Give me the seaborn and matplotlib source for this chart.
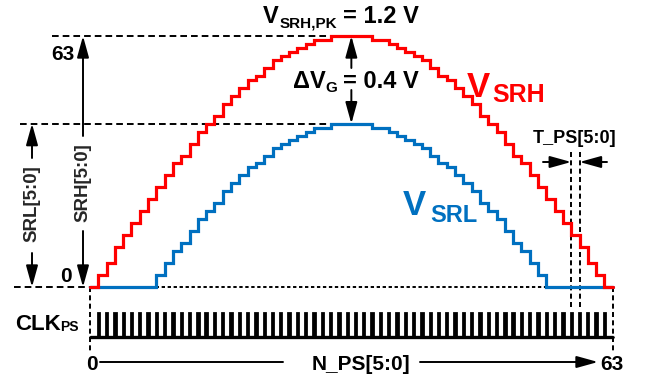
import matplotlib
matplotlib.use("Agg")
import matplotlib.pyplot as plt
import seaborn as sns
import pandas as pd

# N_PS[5:0] steps; each staircase holds one code per T_PS step
n_ps = list(range(63))
srh_code = [0, 3, 6, 10, 13, 16, 19, 22, 25, 28,
            31, 33, 36, 39, 41, 43, 46, 48, 50, 52,
            53, 55, 57, 58, 59, 60, 61, 62, 62, 63,
            63, 63, 63, 63, 62, 62, 61, 60, 59, 58,
            57, 55, 53, 52, 50, 48, 46, 43, 41, 39,
            36, 33, 31, 28, 25, 22, 19, 16, 13, 10,
            6, 3, 0]
srl_code = [0, 0, 0, 0, 0, 0, 0, 0, 3, 6,
            9, 11, 14, 17, 19, 21, 24, 26, 28, 30,
            31, 33, 35, 36, 37, 38, 39, 40, 40, 41,
            41, 41, 41, 41, 40, 40, 39, 38, 37, 36,
            35, 33, 31, 30, 28, 26, 24, 21, 19, 17,
            14, 11, 9, 6, 3, 0, 0, 0, 0, 0,
            0, 0, 0]
clk_edges = list(range(1, 63))   # one CLK_PS pulse per step boundary

red = '#ff0000'
blue = '#0070c0'

sns.set_style('white')
plt.rcParams['font.family'] = ['Liberation Sans', 'DejaVu Sans']
plt.rcParams['font.weight'] = 'bold'
plt.rcParams['lines.scale_dashes'] = False

W, H = 647, 379
XS, YS = 8.297, 3.984   # pixels per step / per code


def px(x, y):
    # position measured on the 647x379 picture -> data coords
    return (x - 90) / XS, (287 - y) / YS


fig = plt.figure(figsize=(W / 100, H / 100), dpi=100)
ax = fig.add_axes([0, 0, 1, 1])
ax.set_xlim(-90 / XS, (W - 90) / XS)
ax.set_ylim((287 - H) / YS, 287 / YS)
ax.axis('off')

top = max(srh_code)
mid = max(srl_code)
n_end = len(n_ps)

# guide lines
dash = dict(color='k', lw=1.4, ls=(0, (4.8, 2.9)))
ax.plot([px(52, 0)[0], srh_code.index(top)], [top, top], **dash)
ax.plot([px(20, 0)[0], srl_code.index(mid)], [mid, mid], **dash)
ax.plot([px(14, 0)[0], 0], [0, 0], **dash)
ax.plot([0, n_end], [0, 0], color='k', lw=1.4, ls=(0, (2.4, 1.9)))
vdash = dict(color='k', lw=1.4, ls=(0, (3.6, 2.4)))
for xv in [0, n_end]:
    ax.plot([xv, xv], [0, px(0, 352)[1]], **vdash)
for xv in [58, 59]:
    ax.plot([xv, xv], [px(0, 152)[1], px(0, 308)[1]], **vdash)

# staircases
steps = pd.DataFrame({'n': n_ps + [n_end],
                      'srh': srh_code + [srh_code[-1]],
                      'srl': srl_code + [srl_code[-1]]})
sns.lineplot(data=steps, x='n', y='srl', drawstyle='steps-post', color=blue,
             lw=2.3, estimator=None, solid_joinstyle='miter', ax=ax)
sns.lineplot(data=steps, x='n', y='srh', drawstyle='steps-post', color=red,
             lw=2.3, estimator=None, solid_joinstyle='miter', ax=ax)

# CLK_PS
lo, hi = px(0, 337)[1], px(0, 313)[1]
clk_x, clk_y = [0], [lo]
for e in clk_edges:
    clk_x += [e - 0.08, e - 0.08, e + 0.08, e + 0.08]
    clk_y += [lo, hi, hi, lo]
clk_x.append(n_end)
clk_y.append(lo)
sns.lineplot(x=clk_x, y=clk_y, sort=False, estimator=None, color='k', lw=2.0,
             solid_joinstyle='miter', ax=ax)
ax.plot([0, n_end], [lo, lo], color='k', lw=2.4, solid_capstyle='butt')


def arrow(p0, p1):
    ax.annotate('', xy=p1, xytext=p0,
                arrowprops=dict(arrowstyle='-|>,head_length=0.65,head_width=0.18',
                                mutation_scale=20, color='k', lw=1.4,
                                shrinkA=0, shrinkB=0))


xh = px(83, 0)[0]
xl = px(32, 0)[0]
arrow((xh, px(0, 136)[1]), (xh, top))
arrow((xh, px(0, 231)[1]), (xh, 0))
arrow((xl, px(0, 158)[1]), (xl, mid))
arrow((xl, px(0, 253)[1]), (xl, 0))
arrow((31.5, px(0, 68)[1]), (31.5, top))
arrow((31.5, px(0, 90)[1]), (31.5, mid))
yt = px(0, 162)[1]
arrow((px(543, 0)[0], yt), (58, yt))
arrow((px(607, 0)[0], yt), (59, yt))
yb = px(0, 362)[1]
arrow((px(420, 0)[0], yb), (px(598, 0)[0], yb))
ax.plot([px(100, 0)[0], px(283, 0)[0]], [yb, yb], color='k', lw=1.4)


def label(x, y, s, size, color='k', ha='left', **kw):
    ax.text(*px(x, y), s, fontsize=size, color=color, ha=ha, va='baseline',
            fontweight='bold', **kw)


label(75, 60, '63', 15, ha='right')
label(72, 282, '0', 15, ha='right')
ax.text(*px(83, 183), 'SRH[5:0]', fontsize=13.5, fontweight='bold',
        rotation=90, ha='center', va='center')
ax.text(*px(32, 204), 'SRL[5:0]', fontsize=13.5, fontweight='bold',
        rotation=90, ha='center', va='center')

label(263, 23, 'V', 17)
label(280, 27, 'SRH,PK', 11)
label(343, 23, '= 1.2 V', 17)
label(293, 88, 'ΔV', 17)
label(325, 92, 'G', 11)
label(343, 88, '= 0.4 V', 17)

label(467, 97, 'V', 25, color=red)
label(492, 102, 'SRH', 18, color=red)
label(403, 215, 'V', 25, color=blue)
label(430, 222, 'SRL', 17, color=blue)

label(575, 143, 'T_PS[5:0]', 13, ha='center')
label(15, 330, 'CLK', 16)
label(60, 331, 'PS', 10)

label(91.5, 370, '0', 15, ha='center')
label(612, 370, '63', 15, ha='center')
label(361, 370, 'N_PS[5:0]', 15, ha='center')

fig.savefig('out.png', dpi=100)
